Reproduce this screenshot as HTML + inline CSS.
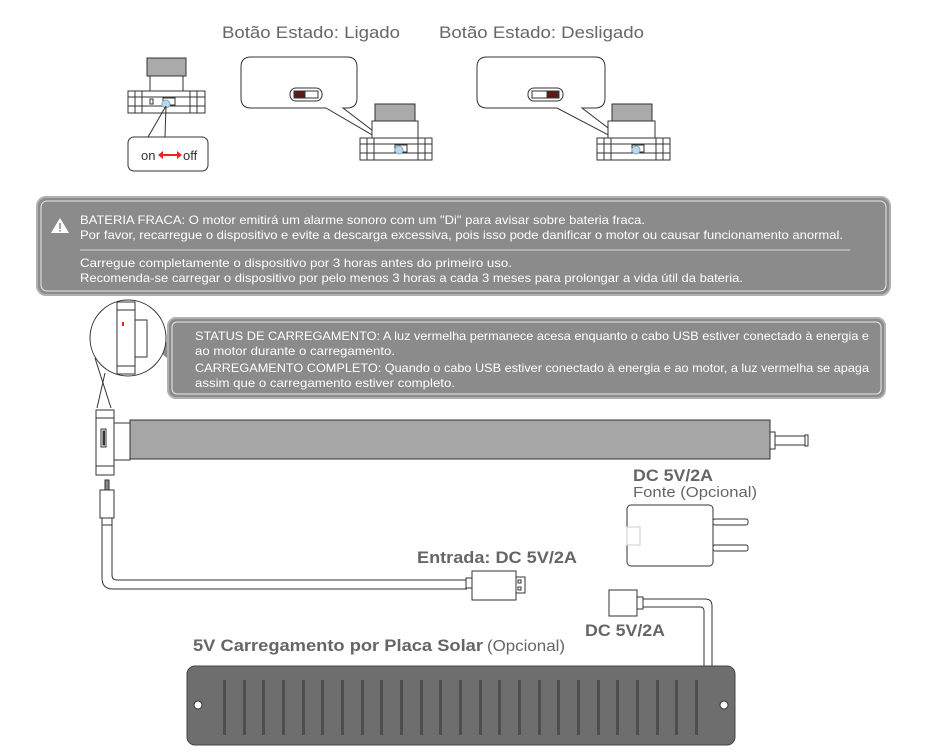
<!DOCTYPE html>
<html><head><meta charset="utf-8"><style>
html,body{margin:0;padding:0;background:#fff;}
svg{display:block;font-family:"Liberation Sans",sans-serif;}
</style></head><body>
<svg width="950" height="753" viewBox="0 0 950 753" xmlns="http://www.w3.org/2000/svg">
<g fill="#666">
<text x="222" y="38" font-size="17" textLength="178" lengthAdjust="spacingAndGlyphs">Botão Estado: Ligado</text>
<text x="439" y="38" font-size="17" textLength="205" lengthAdjust="spacingAndGlyphs">Botão Estado: Desligado</text>
</g>
<!-- small device -->
<g stroke="#333" stroke-width="1">
<rect x="147" y="58" width="39" height="18" fill="#aaa"/>
<rect x="150" y="76" width="33" height="15" fill="#fff"/>
<rect x="128" y="91" width="77" height="22" fill="#fff"/>
<line x1="128" y1="97" x2="205" y2="97"/><line x1="128" y1="106" x2="205" y2="106"/>
<line x1="135" y1="91" x2="135" y2="113"/><line x1="142" y1="91" x2="142" y2="113"/>
<line x1="190" y1="91" x2="190" y2="113"/><line x1="197" y1="91" x2="197" y2="113"/>
<rect x="163" y="98" width="12" height="7" fill="#fff"/>
<rect x="150" y="99" width="3" height="5" fill="#fff"/>
<circle cx="166" cy="104" r="4" fill="#bcd8f0" stroke="#8ab"/>
<path d="M166 106 L148 137 M166 106 L165 137" fill="none"/>
<rect x="128" y="137" width="80" height="34" rx="6" fill="#fff"/>
</g>
<text x="141" y="160" font-size="13" fill="#333">on</text>
<text x="183" y="160" font-size="13" fill="#333">off</text>
<path d="M160 155 L180 155" stroke="#e22" stroke-width="2"/>
<path d="M158 155 l5 -4 v8z M182 155 l-5 -4 v8z" fill="#e22"/>
<!-- Ligado -->
<g stroke="#333" stroke-width="1" fill="#fff">
<path d="M251 57 H347 Q357 57 357 67 V98 Q357 108 347 108 H343 L398 150 L326 108 H251 Q241 108 241 98 V67 Q241 57 251 57Z"/>
<rect x="290" y="88" width="32" height="13" rx="6"/>
<rect x="294" y="91" width="24" height="7" fill="#fff"/>
<rect x="295" y="91" width="10" height="7" fill="#5a1a1a"/>
<rect x="375" y="104" width="40" height="17" fill="#aaa"/>
<rect x="372" y="121" width="46" height="17"/>
<rect x="360" y="138" width="72" height="22"/>
<line x1="360" y1="144" x2="432" y2="144"/><line x1="360" y1="153" x2="432" y2="153"/>
<line x1="367" y1="138" x2="367" y2="160"/><line x1="374" y1="138" x2="374" y2="160"/>
<line x1="418" y1="138" x2="418" y2="160"/><line x1="425" y1="138" x2="425" y2="160"/>
<rect x="395" y="145" width="12" height="7"/>
<circle cx="399" cy="150" r="4" fill="#bcd8f0" stroke="#8ab"/>
</g>
<!-- Desligado -->
<g stroke="#333" stroke-width="1" fill="#fff">
<path d="M487 57 H595 Q605 57 605 67 V98 Q605 108 595 108 H582 L637 150 L557 108 H487 Q477 108 477 98 V67 Q477 57 487 57Z"/>
<rect x="528" y="88" width="35" height="13" rx="6"/>
<rect x="532" y="91" width="27" height="7"/>
<rect x="547" y="91" width="11" height="7" fill="#5a1a1a"/>
<rect x="612" y="104" width="40" height="17" fill="#aaa"/>
<rect x="608" y="121" width="47" height="17"/>
<rect x="597" y="138" width="73" height="22"/>
<line x1="597" y1="144" x2="670" y2="144"/><line x1="597" y1="153" x2="670" y2="153"/>
<line x1="604" y1="138" x2="604" y2="160"/><line x1="611" y1="138" x2="611" y2="160"/>
<line x1="656" y1="138" x2="656" y2="160"/><line x1="663" y1="138" x2="663" y2="160"/>
<rect x="632" y="145" width="12" height="7"/>
<circle cx="636" cy="150" r="4" fill="#bcd8f0" stroke="#8ab"/>
</g>
<!-- warning box -->
<rect x="37" y="197" width="853" height="98" rx="9" fill="#8b8b8b" stroke="#b0b0b0" stroke-width="2"/>
<rect x="41" y="201" width="845" height="90" rx="6" fill="none" stroke="#e8e8e8" stroke-width="1"/>
<path d="M60 218 L69 233 H51Z" fill="#fff"/>
<rect x="59.2" y="223" width="1.6" height="6" fill="#8b8b8b"/><rect x="59.2" y="230" width="1.6" height="1.6" fill="#8b8b8b"/>
<line x1="80" y1="250" x2="850" y2="250" stroke="#d8d8d8"/>
<g fill="#fff" font-size="12">
<text x="80" y="224" textLength="565" lengthAdjust="spacingAndGlyphs">BATERIA FRACA: O motor emitirá um alarme sonoro com um "Di" para avisar sobre bateria fraca.</text>
<text x="80" y="239" textLength="763" lengthAdjust="spacingAndGlyphs">Por favor, recarregue o dispositivo e evite a descarga excessiva, pois isso pode danificar o motor ou causar funcionamento anormal.</text>
<text x="80" y="267" textLength="432" lengthAdjust="spacingAndGlyphs">Carregue completamente o dispositivo por 3 horas antes do primeiro uso.</text>
<text x="80" y="282" textLength="663" lengthAdjust="spacingAndGlyphs">Recomenda-se carregar o dispositivo por pelo menos 3 horas a cada 3 meses para prolongar a vida útil da bateria.</text>
</g>
<!-- status box -->
<path d="M135 330 L175 345 L175 365Z" fill="#8b8b8b"/>
<rect x="168" y="318" width="717" height="80" rx="8" fill="#8b8b8b" stroke="#b0b0b0" stroke-width="2"/>
<rect x="172" y="322" width="709" height="72" rx="5" fill="none" stroke="#e8e8e8"/>
<g fill="#fff" font-size="12">
<text x="195" y="340" textLength="674" lengthAdjust="spacingAndGlyphs">STATUS DE CARREGAMENTO: A luz vermelha permanece acesa enquanto o cabo USB estiver conectado à energia e</text>
<text x="195" y="355" textLength="200" lengthAdjust="spacingAndGlyphs">ao motor durante o carregamento.</text>
<text x="195" y="372" textLength="674" lengthAdjust="spacingAndGlyphs">CARREGAMENTO COMPLETO: Quando o cabo USB estiver conectado à energia e ao motor, a luz vermelha se apaga</text>
<text x="195" y="387" textLength="260" lengthAdjust="spacingAndGlyphs">assim que o carregamento estiver completo.</text>
</g>
<!-- circle zoom -->
<g stroke="#333" stroke-width="1" fill="#fff">
<circle cx="128" cy="338" r="38"/>
<line x1="97" y1="408" x2="105" y2="373"/><line x1="111" y1="408" x2="95" y2="358"/>
<rect x="117" y="302" width="18" height="72"/>
<line x1="117" y1="310" x2="135" y2="310"/><line x1="117" y1="366" x2="135" y2="366"/>
<rect x="135" y="320" width="12" height="37"/>
<rect x="122" y="322" width="2" height="4" fill="#e22" stroke="none"/>
</g>
<!-- motor -->
<g stroke="#333" stroke-width="1">
<rect x="130" y="420" width="640" height="39" fill="#a6a6a6"/>
<rect x="114" y="423" width="16" height="37" fill="#fff"/>
<rect x="96" y="410" width="18" height="65" fill="#fff"/>
<line x1="96" y1="418" x2="114" y2="418"/><line x1="96" y1="466" x2="114" y2="466"/>
<rect x="101" y="429" width="5" height="18" fill="#fff"/>
<rect x="103" y="431" width="1.5" height="14" fill="#333"/>
<rect x="770" y="432" width="5" height="17" fill="#fff"/>
<rect x="775" y="436" width="30" height="9" fill="#fff"/>
<rect x="805" y="435" width="3" height="11" fill="#fff"/>
<!-- cable -->
<rect x="105" y="480" width="4" height="10" fill="#888"/>
<rect x="100" y="490" width="14" height="28" fill="#fff"/>
<rect x="102" y="518" width="10" height="7" fill="#fff"/>
<path d="M102 525 V578 Q102 589 113 589 H467 M112 525 V575 Q112 580 117 580 H467" fill="none"/>
<rect x="466" y="578" width="6" height="10" fill="#fff"/>
<rect x="472" y="571" width="44" height="29" fill="#fff"/>
<rect x="516" y="577" width="9" height="16" fill="#fff"/>
<rect x="518" y="580" width="3" height="3" fill="#fff"/><rect x="518" y="587" width="3" height="3" fill="#fff"/>
<!-- charger -->
<rect x="627" y="505" width="86" height="61" rx="4" fill="#fff"/>
<rect x="627" y="527" width="13" height="18" fill="#fff" stroke="#ccc"/>
<rect x="713" y="519" width="35" height="6" rx="2" fill="#fff"/>
<rect x="713" y="545" width="35" height="6" rx="2" fill="#fff"/>
<!-- solar cable -->
<rect x="609" y="590" width="28" height="26" fill="#fff"/>
<rect x="637" y="597" width="6" height="12" fill="#fff"/>
<path d="M643 599 H705 Q712 599 712 606 V667 M643 607 H700 Q704 607 704 611 V667" fill="none"/>
</g>
<!-- solar panel -->
<rect x="187" y="666" width="548" height="79" rx="8" fill="#6e6e6e" stroke="#444"/>
<g fill="#4e4e4e">
<rect x="223" y="680" width="3" height="55"/><rect x="243" y="680" width="3" height="55"/><rect x="262" y="680" width="3" height="55"/><rect x="282" y="680" width="3" height="55"/><rect x="302" y="680" width="3" height="55"/><rect x="321" y="680" width="3" height="55"/><rect x="341" y="680" width="3" height="55"/><rect x="361" y="680" width="3" height="55"/><rect x="380" y="680" width="3" height="55"/><rect x="400" y="680" width="3" height="55"/><rect x="420" y="680" width="3" height="55"/><rect x="439" y="680" width="3" height="55"/><rect x="459" y="680" width="3" height="55"/><rect x="479" y="680" width="3" height="55"/><rect x="498" y="680" width="3" height="55"/><rect x="518" y="680" width="3" height="55"/><rect x="538" y="680" width="3" height="55"/><rect x="557" y="680" width="3" height="55"/><rect x="577" y="680" width="3" height="55"/><rect x="597" y="680" width="3" height="55"/><rect x="616" y="680" width="3" height="55"/><rect x="636" y="680" width="3" height="55"/><rect x="656" y="680" width="3" height="55"/><rect x="675" y="680" width="3" height="55"/><rect x="695" y="680" width="3" height="55"/>
</g>
<circle cx="198" cy="705" r="4" fill="#fff" stroke="#333"/>
<circle cx="724" cy="705" r="4" fill="#fff" stroke="#333"/>
<!-- labels -->
<g fill="#666">
<text x="633" y="481" font-size="17" font-weight="bold" textLength="80" lengthAdjust="spacingAndGlyphs">DC 5V/2A</text>
<text x="633" y="497" font-size="15" textLength="124" lengthAdjust="spacingAndGlyphs">Fonte (Opcional)</text>
<text x="417" y="563" font-size="17" font-weight="bold" textLength="160" lengthAdjust="spacingAndGlyphs">Entrada: DC 5V/2A</text>
<text x="585" y="636" font-size="17" font-weight="bold" textLength="80" lengthAdjust="spacingAndGlyphs">DC 5V/2A</text>
<text x="193" y="651" font-size="17" font-weight="bold" textLength="290" lengthAdjust="spacingAndGlyphs">5V Carregamento por Placa Solar</text>
<text x="487" y="651" font-size="16" textLength="78" lengthAdjust="spacingAndGlyphs">(Opcional)</text>
</g>
</svg>
</body></html>
